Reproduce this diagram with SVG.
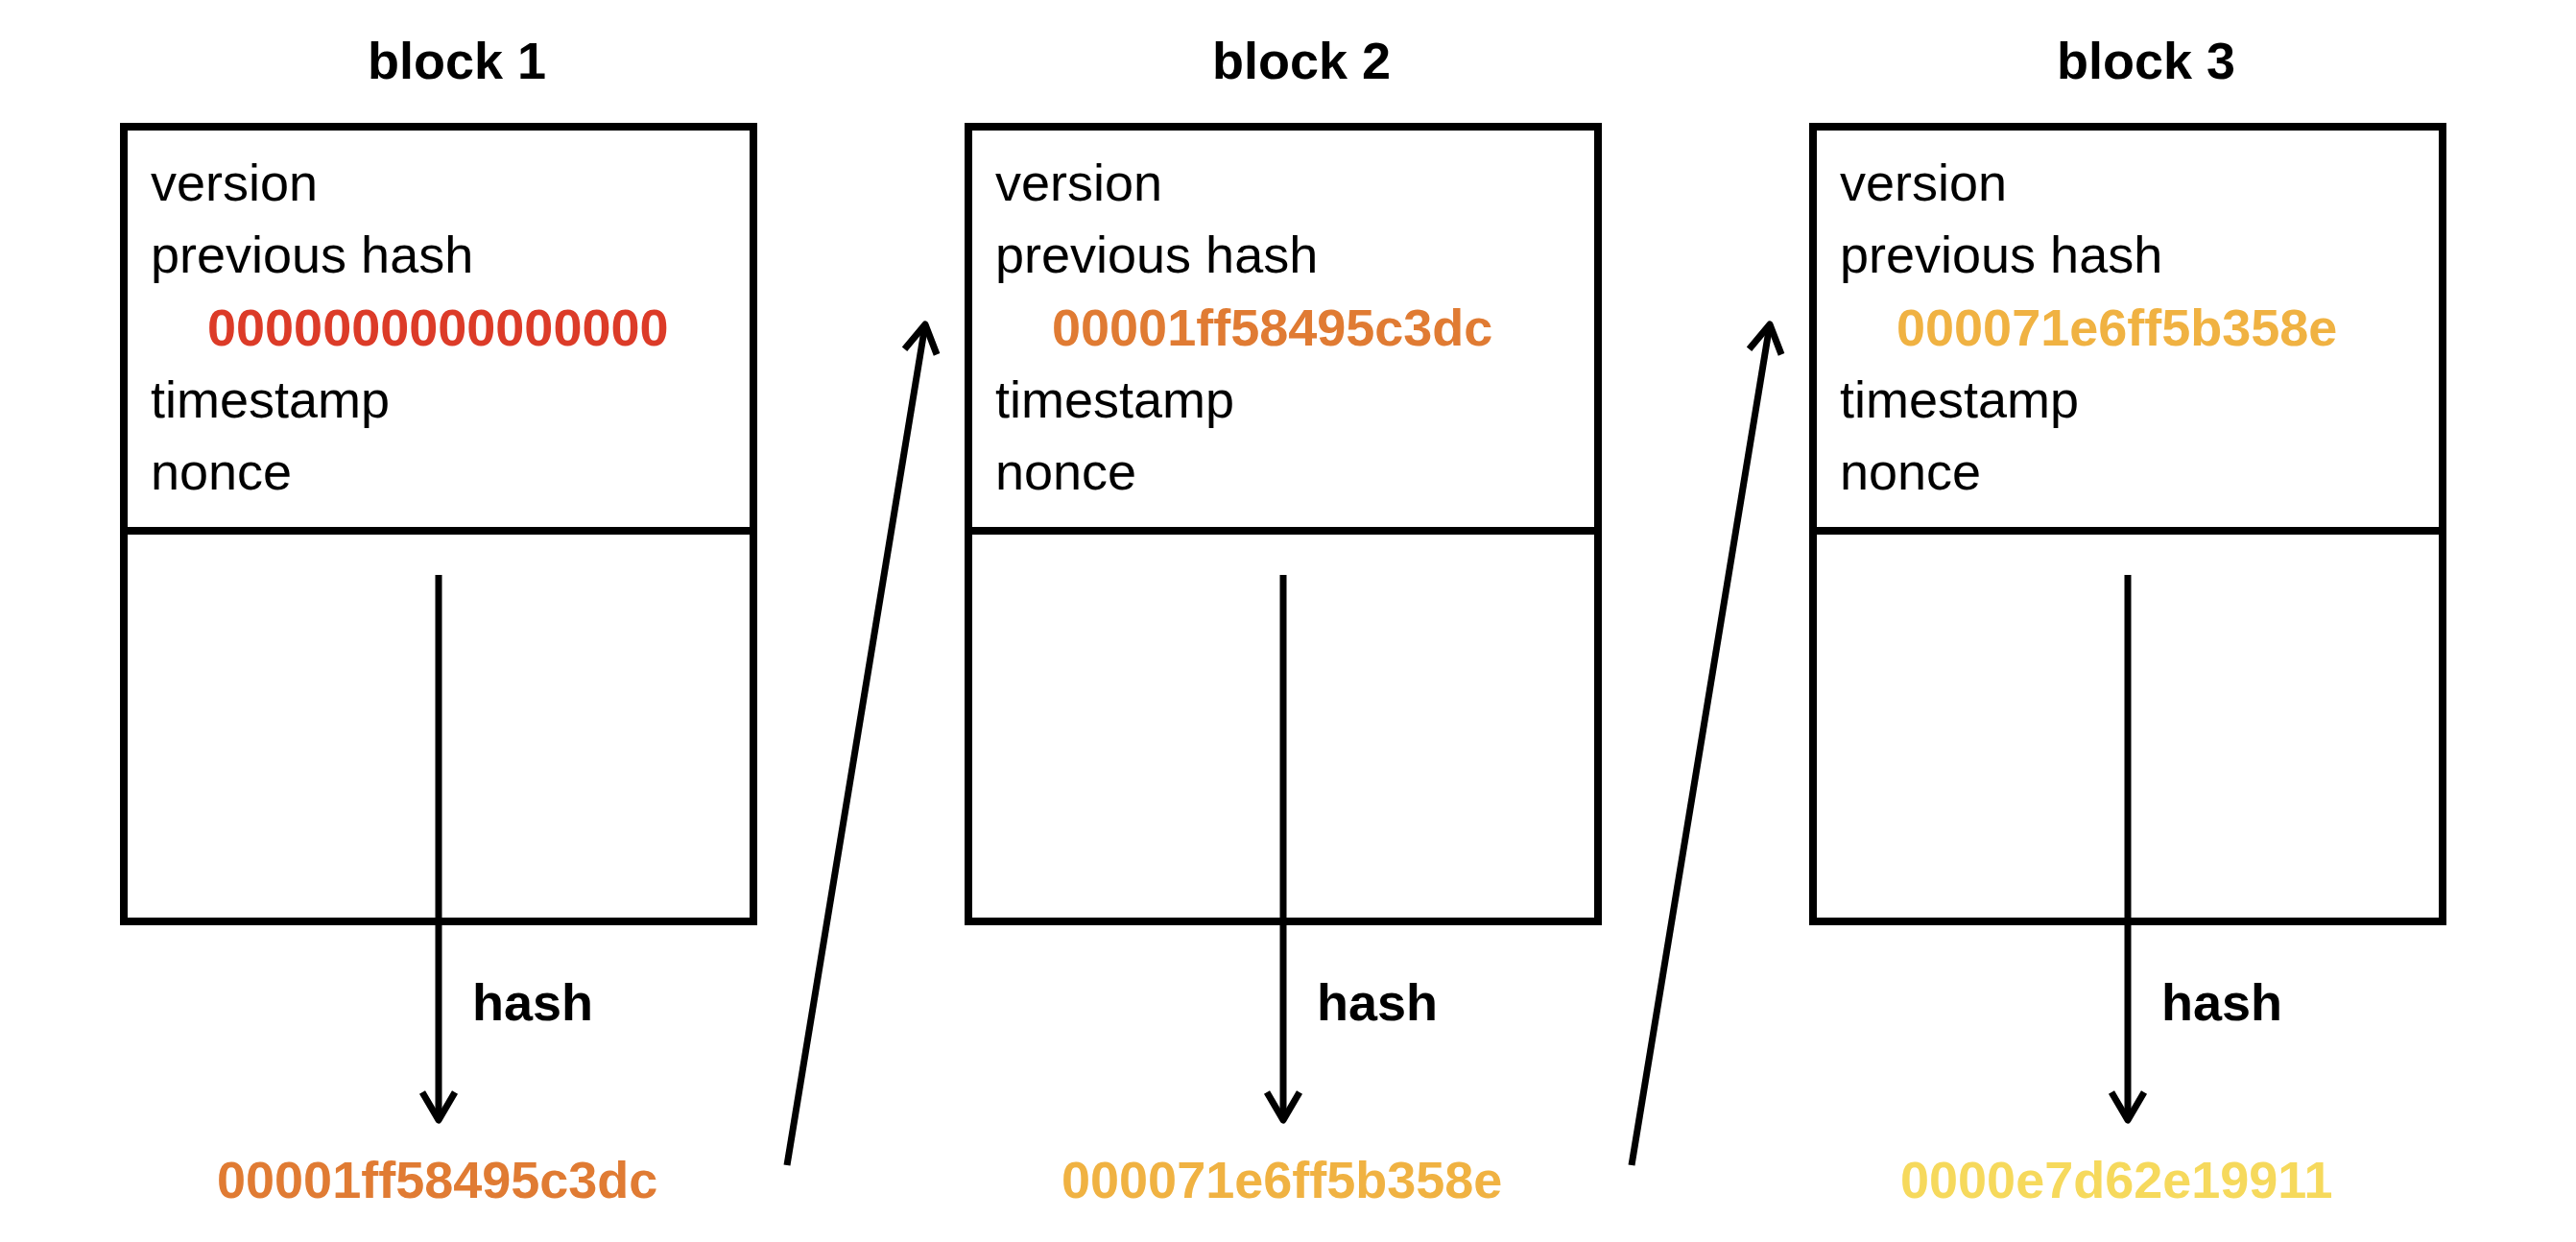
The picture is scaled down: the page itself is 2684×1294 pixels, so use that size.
<svg xmlns="http://www.w3.org/2000/svg" width="2684" height="1294" viewBox="0 0 2684 1294">
<style>
.box{fill:#fff;stroke:#000;stroke-width:8}
.div{stroke:#000;stroke-width:8}
.t{font-family:"Liberation Sans",Arial,Helvetica,sans-serif;font-size:54px;fill:#000}
.b{font-family:"Liberation Sans",Arial,Helvetica,sans-serif;font-size:54px;font-weight:bold}
.title{text-anchor:middle;fill:#000}
.conn{stroke:#000;stroke-width:7;fill:none;marker-end:url(#ah)}
.red{fill:#DC3B28}
.org{fill:#E07B33}
.amb{fill:#F0B242}
.yel{fill:#F6D95C}
</style>
<defs>
<marker id="ah" markerUnits="userSpaceOnUse" viewBox="-40 -25 50 50" refX="0" refY="0" markerWidth="50" markerHeight="50" orient="auto">
<path d="M -29 -17 L 0 0 L -29 17" fill="none" stroke="#000" stroke-width="7" stroke-linejoin="round" stroke-linecap="butt"/>
</marker>
</defs>
<rect width="2684" height="1294" fill="#fff"/>
<g id="block1">
<rect class="box" x="129" y="132" width="656" height="828"/>
<line class="div" x1="129" y1="553" x2="785" y2="553"/>
<text class="b title" x="476" y="82">block 1</text>
<text class="t" x="157" y="209">version</text>
<text class="t" x="157" y="284">previous hash</text>
<text class="b red" x="216" y="360">0000000000000000</text>
<text class="t" x="157" y="435">timestamp</text>
<text class="t" x="157" y="510">nonce</text>
</g>
<g id="block2">
<rect class="box" x="1009" y="132" width="656" height="828"/>
<line class="div" x1="1009" y1="553" x2="1665" y2="553"/>
<text class="b title" x="1356" y="82">block 2</text>
<text class="t" x="1037" y="209">version</text>
<text class="t" x="1037" y="284">previous hash</text>
<text class="b org" x="1096" y="360">00001ff58495c3dc</text>
<text class="t" x="1037" y="435">timestamp</text>
<text class="t" x="1037" y="510">nonce</text>
</g>
<g id="block3">
<rect class="box" x="1889" y="132" width="656" height="828"/>
<line class="div" x1="1889" y1="553" x2="2545" y2="553"/>
<text class="b title" x="2236" y="82">block 3</text>
<text class="t" x="1917" y="209">version</text>
<text class="t" x="1917" y="284">previous hash</text>
<text class="b amb" x="1976" y="360">000071e6ff5b358e</text>
<text class="t" x="1917" y="435">timestamp</text>
<text class="t" x="1917" y="510">nonce</text>
</g>
<g id="hash1">
<text class="b org" x="226" y="1248">00001ff58495c3dc</text>
</g>
<g id="hash2">
<text class="b amb" x="1106" y="1248">000071e6ff5b358e</text>
</g>
<g id="hash3">
<text class="b yel" x="1980" y="1248">0000e7d62e19911</text>
</g>
<g id="connectors">
<line class="conn" x1="457" y1="599" x2="457" y2="1167"/>
<line class="conn" x1="1337" y1="599" x2="1337" y2="1167"/>
<line class="conn" x1="2217" y1="599" x2="2217" y2="1167"/>
<line class="conn" x1="820" y1="1214" x2="964" y2="338"/>
<line class="conn" x1="1700" y1="1214" x2="1844" y2="338"/>
<text class="b" x="492" y="1063">hash</text>
<text class="b" x="1372" y="1063">hash</text>
<text class="b" x="2252" y="1063">hash</text>
</g>
</svg>
